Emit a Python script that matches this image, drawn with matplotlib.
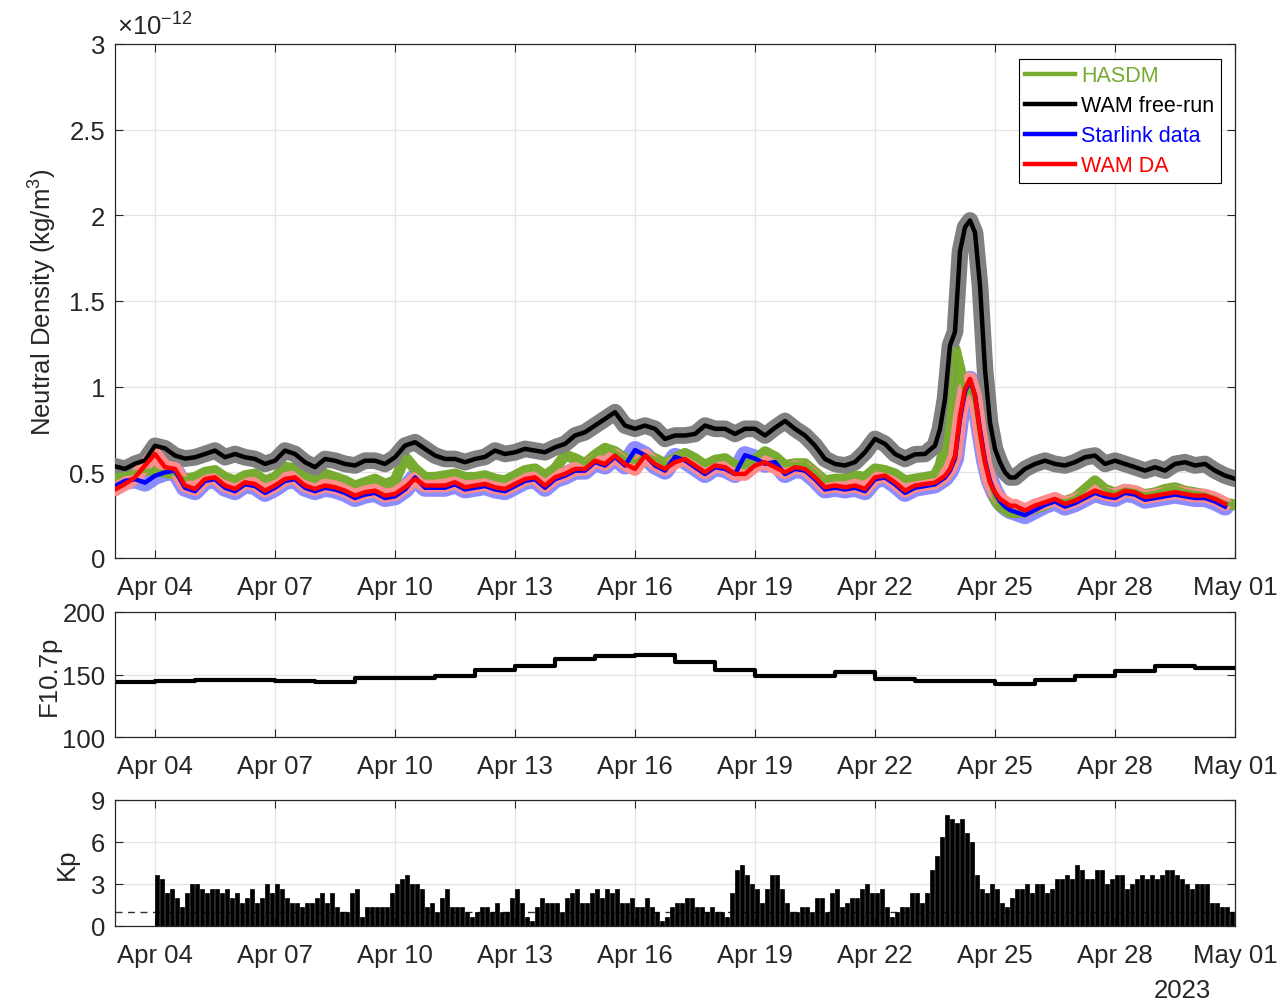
import numpy as np
import matplotlib
matplotlib.use('Agg')
import matplotlib.pyplot as plt
import matplotlib.dates as mdates
from datetime import datetime

plt.rcParams['font.family'] = ['Liberation Sans', 'DejaVu Sans']
plt.rcParams['mathtext.fontset'] = 'custom'
plt.rcParams['mathtext.rm'] = 'Liberation Sans'
plt.rcParams['mathtext.it'] = 'Liberation Sans:italic'
plt.rcParams['mathtext.default'] = 'regular'

# ---------------- data ----------------
start = datetime(2023, 4, 3)
# density sample times (days after Apr 03 00:00): 6-hourly, 3-hourly during the storm
t_density = np.concatenate([np.arange(0, 20.5, 0.25),
                            np.arange(20.5, 22.5, 0.125),
                            np.arange(22.5, 28.001, 0.25)])

# neutral density in 1e-12 kg/m^3
wam_free = [0.535, 0.52, 0.55, 0.57, 0.655, 0.64, 0.598, 0.58,
            0.588, 0.607, 0.627, 0.588, 0.607, 0.588, 0.578, 0.549,
            0.568, 0.627, 0.607, 0.559, 0.53, 0.578, 0.568, 0.549,
            0.54, 0.568, 0.568, 0.549, 0.588, 0.656, 0.676, 0.637,
            0.598, 0.578, 0.578, 0.559, 0.578, 0.59, 0.627, 0.607,
            0.617, 0.637, 0.627, 0.617, 0.646, 0.666, 0.715, 0.734,
            0.773, 0.812, 0.851, 0.773, 0.754, 0.773, 0.754, 0.695,
            0.715, 0.715, 0.724, 0.773, 0.754, 0.754, 0.724, 0.754,
            0.754, 0.715, 0.76, 0.80, 0.754, 0.715, 0.656, 0.578,
            0.549, 0.54, 0.56, 0.617, 0.695, 0.666, 0.607, 0.578,
            0.605, 0.607,
            0.656, 0.753, 0.928, 1.24, 1.32, 1.79, 1.93, 1.97,
            1.90, 1.59, 1.10, 0.79, 0.636, 0.558, 0.50, 0.47,
            0.47, 0.52, 0.549, 0.568, 0.549, 0.54, 0.559, 0.588,
            0.598, 0.549, 0.568, 0.549, 0.53, 0.51, 0.53, 0.51,
            0.549, 0.559, 0.54, 0.549, 0.51, 0.481, 0.462]

wam_da = [0.40, 0.432, 0.471, 0.54, 0.607, 0.53, 0.52, 0.423,
          0.403, 0.461, 0.471, 0.423, 0.403, 0.442, 0.432, 0.393,
          0.423, 0.461, 0.471, 0.423, 0.403, 0.423, 0.413, 0.393,
          0.364, 0.384, 0.393, 0.364, 0.374, 0.413, 0.461, 0.423,
          0.423, 0.423, 0.442, 0.413, 0.423, 0.432, 0.413, 0.403,
          0.432, 0.461, 0.471, 0.423, 0.471, 0.491, 0.52, 0.52,
          0.568, 0.549, 0.598, 0.549, 0.52, 0.598, 0.549, 0.52,
          0.559, 0.578, 0.54, 0.50, 0.54, 0.53, 0.491, 0.491,
          0.54, 0.559, 0.53, 0.50, 0.53, 0.52, 0.471, 0.413,
          0.423, 0.413, 0.423, 0.403, 0.471, 0.481, 0.442, 0.393,
          0.423, 0.432,
          0.44, 0.46, 0.48, 0.52, 0.597, 0.83, 0.987, 1.045,
          0.948, 0.734, 0.558, 0.44, 0.383, 0.344, 0.325, 0.305,
          0.305, 0.277, 0.306, 0.325, 0.345, 0.316, 0.335, 0.364,
          0.393, 0.374, 0.364, 0.393, 0.384, 0.355, 0.364, 0.374,
          0.384, 0.374, 0.364, 0.364, 0.345, 0.316, np.nan]

starlink = [0.42, 0.45, 0.46, 0.44, 0.48, 0.50, 0.51, 0.41,
            0.39, 0.45, 0.46, 0.41, 0.39, 0.43, 0.42, 0.38,
            0.41, 0.45, 0.46, 0.41, 0.39, 0.41, 0.40, 0.38,
            0.35, 0.37, 0.38, 0.35, 0.36, 0.40, 0.47, 0.41,
            0.41, 0.41, 0.43, 0.40, 0.41, 0.42, 0.40, 0.39,
            0.42, 0.45, 0.46, 0.41, 0.46, 0.48, 0.51, 0.51,
            0.56, 0.54, 0.59, 0.54, 0.63, 0.60, 0.54, 0.51,
            0.59, 0.57, 0.53, 0.49, 0.53, 0.52, 0.49, 0.60,
            0.58, 0.55, 0.56, 0.49, 0.52, 0.51, 0.46, 0.40,
            0.41, 0.40, 0.41, 0.39, 0.46, 0.47, 0.43, 0.38,
            0.41, 0.42,
            0.43, 0.45, 0.47, 0.51, 0.58, 0.81, 0.97, 1.04,
            0.95, 0.75, 0.57, 0.45, 0.38, 0.33, 0.30, 0.28,
            0.27, 0.25, 0.28, 0.31, 0.33, 0.30, 0.32, 0.35,
            0.38, 0.36, 0.35, 0.38, 0.37, 0.34, 0.35, 0.36,
            0.37, 0.36, 0.35, 0.35, 0.33, 0.30, np.nan]

hasdm = [0.48, 0.49, 0.50, 0.51, 0.51, 0.50, 0.49, 0.46,
         0.47, 0.50, 0.51, 0.47, 0.45, 0.48, 0.49, 0.45,
         0.47, 0.53, 0.52, 0.47, 0.45, 0.49, 0.47, 0.45,
         0.42, 0.44, 0.46, 0.43, 0.45, 0.59, 0.52, 0.47,
         0.47, 0.48, 0.49, 0.47, 0.47, 0.48, 0.46, 0.45,
         0.48, 0.51, 0.52, 0.48, 0.52, 0.60, 0.58, 0.55,
         0.60, 0.64, 0.62, 0.58, 0.56, 0.60, 0.58, 0.55,
         0.58, 0.61, 0.58, 0.54, 0.57, 0.58, 0.54, 0.53,
         0.57, 0.62, 0.59, 0.54, 0.55, 0.55, 0.50, 0.45,
         0.46, 0.46, 0.48, 0.47, 0.52, 0.51, 0.49, 0.45,
         0.46, 0.47,
         0.48, 0.54, 0.656, 0.87, 1.22, 1.10, 0.948, 0.987,
         0.91, 0.714, 0.56, 0.44, 0.344, 0.305, 0.286, 0.266,
         0.266, 0.27, 0.29, 0.31, 0.34, 0.33, 0.35, 0.40,
         0.45, 0.40, 0.38, 0.40, 0.39, 0.37, 0.38, 0.40,
         0.41, 0.39, 0.38, 0.37, 0.35, 0.32, 0.31]

# daily F10.7 (Apr 03 .. Apr 30)
f107_days = np.arange(0, 29)
f107 = [144, 145, 146, 146, 145, 144, 147, 147, 148.7, 154, 156.7, 162.8,
        164.7, 165.8, 160.4, 153.5, 149.2, 149, 152.4, 146.8, 144.7, 144.7,
        142.5, 146, 148.7, 153, 156.7, 155.6]

# 3-hourly Kp from Apr 04 00 UT to Apr 30 24 UT
kp = [3.67, 3.33, 2.33, 2.67, 2.0, 1.33, 2.33, 3.0,
      3.0, 2.67, 2.33, 2.67, 2.67, 2.33, 2.67, 2.0,
      2.33, 1.67, 2.0, 2.67, 1.67, 2.0, 3.0, 2.33,
      3.0, 2.67, 2.0, 1.67, 1.67, 1.33, 1.67, 1.67,
      2.0, 2.33, 1.67, 2.33, 1.33, 1.0, 1.0, 2.33,
      2.67, 0.67, 1.33, 1.33, 1.33, 1.33, 1.33, 2.33,
      3.0, 3.33, 3.67, 3.0, 3.0, 2.67, 1.33, 1.67,
      1.0, 2.0, 2.67, 1.33, 1.33, 1.33, 1.0, 0.67,
      1.0, 1.33, 1.33, 1.0, 1.67, 1.0, 1.0, 2.0,
      2.67, 1.67, 0.67, 0.33, 1.33, 2.0, 1.67, 1.67,
      1.67, 1.0, 2.0, 2.33, 2.67, 1.67, 1.67, 2.33,
      2.67, 2.0, 2.67, 2.33, 2.67, 1.67, 1.67, 2.0,
      1.33, 1.33, 2.0, 1.33, 1.0, 0.33, 0.67, 1.33,
      1.67, 1.67, 2.0, 2.0, 1.33, 1.33, 1.0, 1.33,
      1.0, 1.0, 0.67, 2.33, 4.0, 4.33, 3.67, 3.0,
      2.67, 1.67, 2.67, 3.67, 3.67, 2.67, 1.67, 1.0,
      1.0, 1.33, 1.33, 1.0, 2.0, 2.0, 1.0, 2.33,
      2.67, 1.33, 1.67, 2.0, 2.0, 2.67, 3.0, 2.33,
      2.33, 2.67, 1.33, 0.67, 1.0, 1.33, 1.33, 2.33,
      2.33, 1.67, 2.33, 4.0, 5.0, 6.33, 7.9, 7.67,
      7.33, 7.67, 6.67, 6.0, 3.67, 2.67, 2.33, 3.0,
      2.67, 1.67, 1.33, 2.0, 2.67, 2.67, 3.0, 2.33,
      3.0, 3.0, 2.33, 2.67, 3.33, 3.33, 3.67, 3.33,
      4.33, 4.0, 3.33, 3.33, 4.0, 4.0, 3.0, 3.33,
      3.67, 3.67, 2.67, 3.0, 3.33, 3.67, 3.33, 3.67,
      3.33, 3.67, 4.0, 4.0, 3.67, 3.33, 3.0, 2.67,
      3.0, 3.0, 3.0, 1.67, 1.67, 1.33, 1.33, 1.0]
kp_start_day = 1.0  # Apr 04
kp_step = 0.125

tick_dates = [datetime(2023, 4, 4), datetime(2023, 4, 7), datetime(2023, 4, 10),
              datetime(2023, 4, 13), datetime(2023, 4, 16), datetime(2023, 4, 19),
              datetime(2023, 4, 22), datetime(2023, 4, 25), datetime(2023, 4, 28),
              datetime(2023, 5, 1)]

# ---------------- styling ----------------
GREEN = (0.466, 0.674, 0.188)
AXC = (0.15, 0.15, 0.15)
GRIDC = '#e3e3e3'
FS = 18.5

x0 = mdates.date2num(start)
xd = x0 + t_density
xlim = (x0, x0 + 28)

fig = plt.figure(figsize=(12.86, 10.04), dpi=100)
L, W = 115 / 1286, 1120 / 1286
ax1 = fig.add_axes([L, 1 - 559 / 1004, W, 514 / 1004])
ax2 = fig.add_axes([L, 1 - 738 / 1004, W, 125 / 1004])
ax3 = fig.add_axes([L, 1 - 927 / 1004, W, 126 / 1004])


def style(ax):
    ax.set_xlim(*xlim)
    ax.set_xticks(mdates.date2num(tick_dates))
    ax.xaxis.set_major_formatter(mdates.DateFormatter('%b %d'))
    ax.tick_params(direction='in', top=True, right=True, length=6, width=0.8,
                   labelsize=FS, colors=AXC, pad=12)
    ax.tick_params(axis='y', pad=7)
    for s in ax.spines.values():
        s.set_color(AXC)
        s.set_linewidth(0.9)
    ax.grid(True, color=GRIDC, linewidth=0.9)
    ax.set_axisbelow(True)


# ---- top panel ----
ax1.plot(xd, starlink, color=(0.5, 0.5, 1.0), lw=13, alpha=0.9, solid_capstyle='round', zorder=2)
ax1.plot(xd, hasdm, color=GREEN, lw=8, solid_capstyle='round', zorder=3)
ax1.plot(xd, wam_free, color=(0.5, 0.5, 0.5), lw=12, solid_capstyle='round', zorder=3)
ax1.plot(xd, wam_da, color=(1.0, 0.55, 0.55), lw=10, solid_capstyle='round', zorder=4)
l1, = ax1.plot(xd, hasdm, color=GREEN, lw=3.2, zorder=5, label='HASDM')
l2, = ax1.plot(xd, wam_free, color='black', lw=3.2, zorder=6, label='WAM free-run')
l3, = ax1.plot(xd, starlink, color='blue', lw=3.2, zorder=7, label='Starlink data')
l4, = ax1.plot(xd, wam_da, color='red', lw=3.2, zorder=8, label='WAM DA')
style(ax1)
ax1.set_ylim(0, 3)
ax1.set_yticks([0, 0.5, 1, 1.5, 2, 2.5, 3])
ax1.set_yticklabels(['0', '0.5', '1', '1.5', '2', '2.5', '3'])
ax1.set_ylabel('Neutral Density (kg/m$^3$)', fontsize=FS, color=AXC)
ax1.yaxis.set_label_coords(-0.05, 0.5)
ax1.text(0.002, 1.008, r'$\times10^{-12}$', transform=ax1.transAxes, fontsize=FS,
         color=AXC, ha='left', va='bottom')
leg = ax1.legend(handles=[l1, l2, l3, l4], loc='upper right',
                 bbox_to_anchor=(0.9875, 0.971), fontsize=15.5, frameon=True,
                 fancybox=False, framealpha=1, edgecolor='black', borderaxespad=0,
                 handlelength=2.3, handletextpad=0.3, labelspacing=0.42,
                 borderpad=0.3)
leg.get_frame().set_linewidth(0.8)
for txt, c in zip(leg.get_texts(), [GREEN, 'black', 'blue', 'red']):
    txt.set_color(c)

# ---- F10.7 panel ----
ax2.step(x0 + f107_days, list(f107) + [f107[-1]], where='post', color='black', lw=3)
style(ax2)
ax2.set_ylim(100, 200)
ax2.set_yticks([100, 150, 200])
ax2.set_ylabel('F10.7p', fontsize=FS, color=AXC)
ax2.yaxis.set_label_coords(-0.048, 0.5)

# ---- Kp panel ----
kp_x = x0 + kp_start_day + np.arange(len(kp)) * kp_step
ax3.axhline(1, color='#333333', lw=1, ls=(0, (5, 4)), zorder=1)
ax3.bar(kp_x, kp, width=kp_step * 0.8, align='edge', color='black',
        edgecolor='black', linewidth=0.5, zorder=2)
style(ax3)
ax3.set_ylim(0, 9)
ax3.set_yticks([0, 3, 6, 9])
ax3.set_ylabel('Kp', fontsize=FS, color=AXC)
ax3.yaxis.set_label_coords(-0.032, 0.5)
fig.text(1182 / 1286, 1 - 991 / 1004, '2023', fontsize=FS, color=AXC,
         ha='center', va='center')

fig.savefig('out.png', dpi=100)
